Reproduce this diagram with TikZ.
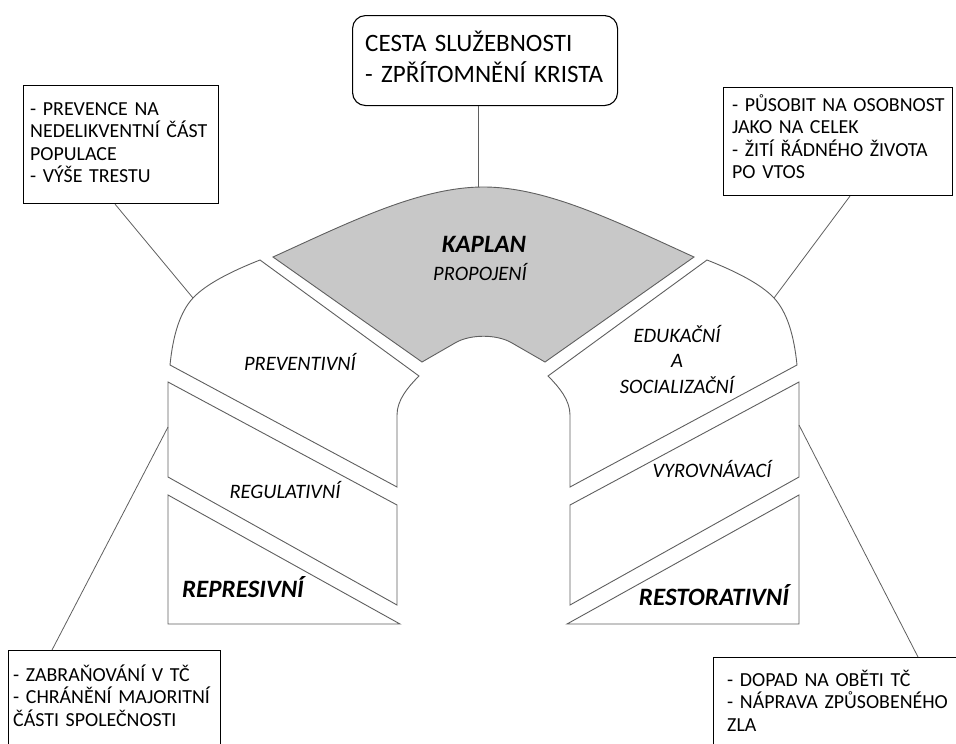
\documentclass[tikz,border=0pt]{standalone}
\usepackage{fontspec}
\setmainfont{Carlito}
\definecolor{kaplangray}{RGB}{200,200,200}
\definecolor{archline}{RGB}{95,95,95}

\begin{document}
\begin{tikzpicture}[x=1pt, y=-1pt,
        infobox/.style={draw=black, line width=1.1pt, inner sep=0, anchor=north west},
        topbox/.style={infobox, rounded corners=13pt},
        infotext/.style={inner sep=0, anchor=base west, text width=260pt, align=left,
            font=\fontsize{19.9}{22.5}\selectfont},
        toptext/.style={infotext, font=\fontsize{25}{32}\selectfont},
        archpiece/.style={draw=archline, line width=0.9pt, fill=white},
        kaplanpiece/.style={archpiece, fill=kaplangray},
        arclabel/.style={inner sep=0, anchor=base, font=\fontsize{20.5}{25.5}\selectfont\itshape},
        boldlabel/.style={arclabel, font=\fontsize{25}{30}\selectfont\bfseries\itshape},
        leader/.style={draw=archline, line width=0.8pt}]
                \useasboundingbox (0,0) rectangle (956,744);
                \clip (0,0) rectangle (956,744);

                \node (topBox) [topbox, minimum width=265pt, minimum height=90pt] at (352,15) {};
                \node (tlBox) [infobox, minimum width=195pt, minimum height=118pt] at (23,85) {};
                \node (trBox) [infobox, minimum width=229pt, minimum height=108pt] at (723,87) {};
                \node (blBox) [infobox, minimum width=212pt, minimum height=120pt] at (8,650) {};
                \node (brBox) [infobox, minimum width=260pt, minimum height=110pt] at (713,657) {};

                \node (topText) [toptext] at (365,51) {CESTA SLUŽEBNOSTI\\- ZPŘÍTOMNĚNÍ KRISTA};
                \node (tlText) [infotext] at (30,115) {- PREVENCE NA\\NEDELIKVENTNÍ ČÁST\\POPULACE\\- VÝŠE TRESTU};
                \node (trText) [infotext] at (732,111) {- PŮSOBIT NA OSOBNOST\\JAKO NA CELEK\\- ŽITÍ ŘÁDNÉHO ŽIVOTA\\PO VTOS};
                \node (blText) [infotext] at (13,681) {- ZABRAŇOVÁNÍ V TČ\\- CHRÁNĚNÍ MAJORITNÍ\\ČÁSTI SPOLEČNOSTI};
                \node (brText) [infotext] at (727,686) {- DOPAD NA OBĚTI TČ\\- NÁPRAVA ZPŮSOBENÉHO\\ZLA};

                \draw [kaplanpiece] (273,257) .. controls (350,222) and (420,187) .. (483.5,187)
                    .. controls (547,187) and (617,222) .. (694,257) -- (545,362) -- (512,343)
                    .. controls (497,334) and (470,334) .. (455,343) -- (422,362) -- cycle;
                \draw [archpiece] (260,260) -- (419,376) .. controls (408,387) and (397,400) .. (397,415)
                    -- (397,487) -- (170,365) .. controls (173,335) and (180,312) .. (193,298)
                    .. controls (206,284) and (232,271) .. (260,260) -- cycle;
                \draw [archpiece] (707,260) -- (548,376) .. controls (559,387) and (570,400) .. (570,415)
                    -- (570,487) -- (797,365) .. controls (794,335) and (787,312) .. (774,298)
                    .. controls (761,284) and (735,271) .. (707,260) -- cycle;
                \draw [archpiece] (168,382) -- (397,505) -- (397,605) -- (168,477) -- cycle;
                \draw [archpiece] (799,382) -- (570,505) -- (570,605) -- (799,477) -- cycle;
                \draw [archpiece] (168,495) -- (168,624) -- (400,624) -- cycle;
                \draw [archpiece] (799,495) -- (799,624) -- (567,624) -- cycle;

                \coordinate (kaplanTop) at (478,187);
                \coordinate (prevTip) at (193,298);
                \coordinate (eduTip) at (774,298);
                \coordinate (reguTip) at (168,427);
                \coordinate (vyroTip) at (799,425);

                \path (topBox.south -| kaplanTop) edge [leader] (kaplanTop);
                \path (tlBox.south west) ++(92,0) edge [leader] (prevTip);
                \path (trBox.south west) ++(127,0) edge [leader] (eduTip);
                \path (blBox.north west) ++(44,0) edge [leader] (reguTip);
                \path (brBox.north west) ++(205,0) edge [leader] (vyroTip);

                \node (kaplanLbl) [boldlabel] at (484,252) {KAPLAN};
                \node (propojeniLbl) [arclabel] at (480,280) {PROPOJENÍ};
                \node (prevLbl) [arclabel] at (300,370) {PREVENTIVNÍ};
                \node (eduLbl) [arclabel, text width=170pt, align=center] at (677,342) {EDUKAČNÍ\\A\\SOCIALIZAČNÍ};
                \node (reguLbl) [arclabel] at (285,498) {REGULATIVNÍ};
                \node (vyroLbl) [arclabel] at (712,477) {VYROVNÁVACÍ};
                \node (repreLbl) [boldlabel] at (243,597) {REPRESIVNÍ};
                \node (restoLbl) [boldlabel] at (714,605) {RESTORATIVNÍ};
\end{tikzpicture}
\end{document}
